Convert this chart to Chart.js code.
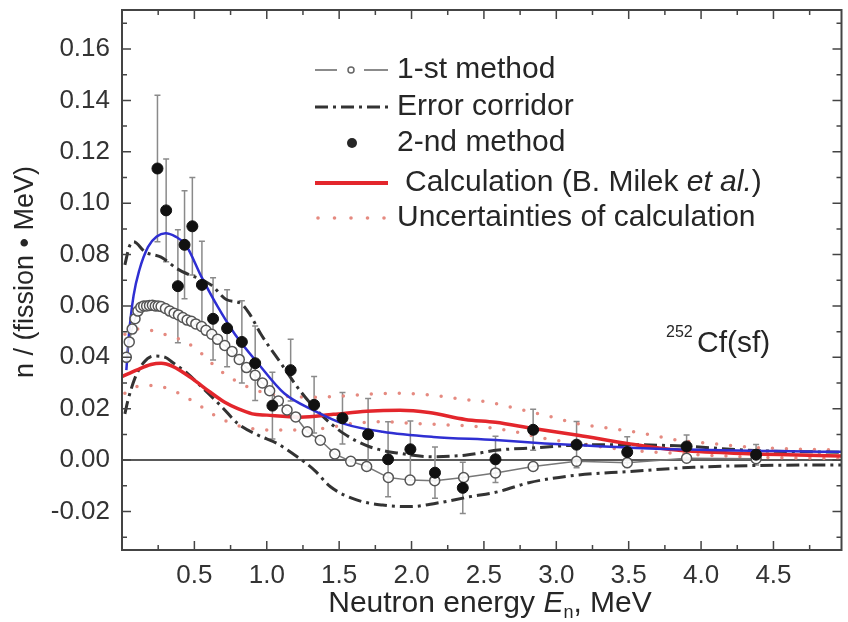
<!DOCTYPE html>
<html>
<head>
<meta charset="utf-8">
<script src="https://cdn.jsdelivr.net/npm/chart.js@4"></script>
<style>
  html, body { margin: 0; padding: 0; background: #fff; }
  canvas { display: block; }
</style>
</head>
<body>
<canvas id="chart" width="848" height="622"></canvas>
<script>
// 1-st method (open circles)
const firstE = [0.03, 0.05, 0.07, 0.09, 0.11, 0.13, 0.15, 0.17, 0.19, 0.21, 0.23, 0.25, 0.27, 0.30, 0.33, 0.36, 0.39, 0.42, 0.45, 0.48, 0.51, 0.55, 0.58, 0.62, 0.66, 0.71, 0.76, 0.81, 0.86, 0.92, 0.97, 1.02, 1.08, 1.14, 1.20, 1.28, 1.37, 1.47, 1.58, 1.69, 1.84, 1.99, 2.16, 2.36, 2.58, 2.84, 3.14, 3.49, 3.90, 4.38];
const firstV = [0.040, 0.046, 0.051, 0.055, 0.058, 0.0595, 0.060, 0.060, 0.0602, 0.0603, 0.060, 0.060, 0.0598, 0.059, 0.058, 0.0572, 0.0565, 0.0555, 0.0545, 0.054, 0.053, 0.052, 0.0505, 0.049, 0.047, 0.0446, 0.0423, 0.0392, 0.036, 0.033, 0.030, 0.027, 0.023, 0.0195, 0.0168, 0.011, 0.0077, 0.0024, -0.0005, -0.0025, -0.0068, -0.0078, -0.008, -0.0068, -0.005, -0.0025, -0.0005, -0.001, 0.0007, 0.0005];

// error corridor (dash-dot)
const corrUpE = [0.02, 0.05, 0.08, 0.16, 0.27, 0.38, 0.47, 0.54, 0.62, 0.72, 0.82, 0.88, 0.96, 1.10, 1.23, 1.37, 1.53, 1.71, 1.92, 2.15, 2.37, 2.60, 2.86, 3.13, 3.48, 3.89, 4.33, 4.97];
const corrUpV = [0.076, 0.083, 0.085, 0.081, 0.079, 0.0745, 0.072, 0.0705, 0.068, 0.0625, 0.061, 0.057, 0.049, 0.0375, 0.027, 0.018, 0.0104, 0.0052, 0.0026, 0.0013, 0.0019, 0.0039, 0.0048, 0.0058, 0.006, 0.0054, 0.0038, 0.003];
const corrLoE = [0.02, 0.04, 0.09, 0.15, 0.22, 0.30, 0.35, 0.44, 0.55, 0.69, 0.80, 0.94, 1.07, 1.21, 1.33, 1.44, 1.62, 1.80, 1.99, 2.17, 2.40, 2.60, 2.81, 3.15, 3.49, 3.95, 4.52, 4.97];
const corrLoV = [0.018, 0.023, 0.032, 0.038, 0.0405, 0.040, 0.038, 0.0343, 0.0285, 0.0207, 0.0142, 0.0097, 0.0065, 0.0013, -0.004, -0.0104, -0.0155, -0.0175, -0.0181, -0.0168, -0.0143, -0.0123, -0.0088, -0.0058, -0.0045, -0.0028, -0.002, -0.0019];

// 2-nd method (filled dots) with error bars
const secondE = [0.245, 0.305, 0.386, 0.432, 0.486, 0.552, 0.629, 0.726, 0.828, 0.92, 1.039, 1.165, 1.327, 1.523, 1.70, 1.838, 1.992, 2.162, 2.354, 2.58, 2.84, 3.14, 3.49, 3.90, 4.38];
const secondV = [0.1135, 0.0972, 0.0677, 0.0838, 0.0910, 0.0682, 0.0550, 0.0513, 0.0460, 0.0377, 0.0212, 0.0350, 0.0215, 0.0163, 0.0100, 0.0003, 0.0042, -0.0049, -0.0108, 0.0003, 0.0118, 0.0060, 0.0031, 0.0053, 0.0021];
const secondErr = [0.0285, 0.020, 0.022, 0.021, 0.019, 0.017, 0.016, 0.015, 0.016, 0.0145, 0.013, 0.012, 0.011, 0.010, 0.014, 0.0146, 0.011, 0.010, 0.010, 0.009, 0.008, 0.009, 0.006, 0.0045, 0.004];

// calculation (B. Milek et al.) and its uncertainties
const calcE = [0, 0.10, 0.20, 0.27, 0.35, 0.49, 0.60, 0.71, 0.80, 0.90, 1.00, 1.23, 1.46, 1.69, 1.92, 2.12, 2.37, 2.58, 2.84, 3.15, 3.49, 3.83, 4.29, 4.97];
const calcV = [0.0325, 0.035, 0.0372, 0.0377, 0.0365, 0.0315, 0.0268, 0.0225, 0.020, 0.018, 0.0175, 0.0167, 0.0178, 0.019, 0.0194, 0.0185, 0.0158, 0.0147, 0.0123, 0.0097, 0.0065, 0.0039, 0.0026, 0.0016];
const uncUpE = [0.02, 0.10, 0.20, 0.32, 0.44, 0.55, 0.66, 0.78, 0.90, 1.00, 1.15, 1.30, 1.42, 1.58, 1.74, 1.92, 2.15, 2.37, 2.51, 2.72, 2.92, 3.15, 3.38, 3.60, 3.83, 4.06, 4.29, 4.52, 4.97];
const uncUpV = [0.049, 0.051, 0.0505, 0.0485, 0.046, 0.0414, 0.0356, 0.031, 0.0277, 0.026, 0.0248, 0.0245, 0.0246, 0.0252, 0.0258, 0.026, 0.0252, 0.0235, 0.0228, 0.0201, 0.0175, 0.0142, 0.0123, 0.0104, 0.0078, 0.0065, 0.0052, 0.0045, 0.0039];
const uncLoE = [0.02, 0.09, 0.20, 0.32, 0.44, 0.55, 0.66, 0.78, 0.90, 1.00, 1.20, 1.39, 1.58, 1.80, 2.03, 2.28, 2.51, 2.72, 2.92, 3.15, 3.49, 3.83, 4.29, 4.97];
const uncLoV = [0.026, 0.0285, 0.029, 0.0278, 0.0246, 0.0207, 0.0168, 0.0138, 0.0122, 0.0117, 0.0117, 0.0123, 0.0142, 0.0149, 0.0142, 0.0136, 0.0128, 0.011, 0.0084, 0.0065, 0.0039, 0.0026, 0.0013, 0.0006];

// blue curve (no legend entry)
const blueE = [0.03, 0.05, 0.08, 0.12, 0.18, 0.24, 0.30, 0.37, 0.44, 0.55, 0.66, 0.78, 0.94, 1.12, 1.33, 1.53, 1.80, 2.15, 2.58, 2.92, 3.26, 3.60, 4.06, 4.52, 4.97];
const blueV = [0.035, 0.050, 0.064, 0.074, 0.083, 0.087, 0.0883, 0.087, 0.0838, 0.0712, 0.0598, 0.049, 0.0376, 0.026, 0.0192, 0.0142, 0.011, 0.009, 0.0078, 0.0065, 0.0055, 0.0046, 0.0039, 0.0035, 0.0032];

// axes
const xLabelTicks = [0.5, 1.0, 1.5, 2.0, 2.5, 3.0, 3.5, 4.0, 4.5];
const yLabelTicks = [-0.02, 0.00, 0.02, 0.04, 0.06, 0.08, 0.10, 0.12, 0.14, 0.16];
const legendLabels = ['1-st method', 'Error corridor', '2-nd method', 'Calculation (B. Milek ', 'Uncertainties of calculation'];

const FONT = '"Liberation Sans", Arial, sans-serif';
const pts = (xs, ys) => xs.map((x, i) => ({ x: x, y: ys[i] }));
const near = (v, list) => list.some(t => Math.abs(t - v) < 1e-6);

const CORR_DASH = [13, 5, 3, 5];
const DOT_DASH = [0, 14];

const decor = {
  id: 'decor',
  beforeDatasetsDraw(chart) {
    const { ctx, chartArea: a, scales: { x, y } } = chart;
    ctx.save();
    // zero line
    ctx.strokeStyle = '#222';
    ctx.lineWidth = 1.5;
    const y0 = y.getPixelForValue(0);
    ctx.beginPath(); ctx.moveTo(a.left, y0); ctx.lineTo(a.right, y0); ctx.stroke();
    // error bars of 2nd method
    ctx.strokeStyle = '#8a8a8a';
    ctx.lineWidth = 1.5;
    secondE.forEach((e, i) => {
      const px = x.getPixelForValue(e);
      const t = y.getPixelForValue(secondV[i] + secondErr[i]);
      const b = y.getPixelForValue(secondV[i] - secondErr[i]);
      ctx.beginPath();
      ctx.moveTo(px, t); ctx.lineTo(px, b);
      ctx.moveTo(px - 3, t); ctx.lineTo(px + 3, t);
      ctx.moveTo(px - 3, b); ctx.lineTo(px + 3, b);
      ctx.stroke();
    });
    ctx.restore();
  },
  afterDraw(chart) {
    const { ctx, chartArea: a, scales: { x, y } } = chart;
    ctx.save();
    // frame
    ctx.strokeStyle = '#444';
    ctx.lineWidth = 2;
    ctx.strokeRect(a.left, a.top, a.right - a.left, a.bottom - a.top);
    // inward ticks on all four sides
    ctx.lineWidth = 1.5;
    ctx.beginPath();
    for (let v = 0.25; v < x.max; v += 0.25) {
      const px = x.getPixelForValue(v);
      const len = Math.abs(v / 0.5 - Math.round(v / 0.5)) < 1e-6 ? 9 : 5;
      ctx.moveTo(px, a.bottom); ctx.lineTo(px, a.bottom - len);
      ctx.moveTo(px, a.top); ctx.lineTo(px, a.top + len);
    }
    for (let k = -3; k <= 17; k++) {
      const py = y.getPixelForValue(k / 100);
      const len = k % 2 === 0 ? 9 : 5;
      ctx.moveTo(a.left, py); ctx.lineTo(a.left + len, py);
      ctx.moveTo(a.right, py); ctx.lineTo(a.right - len, py);
    }
    ctx.stroke();

    ctx.fillStyle = '#262626';
    // y title
    ctx.save();
    ctx.translate(26, 272);
    ctx.rotate(-Math.PI / 2);
    ctx.font = `27px ${FONT}`;
    ctx.textAlign = 'center';
    ctx.textBaseline = 'middle';
    ctx.fillText('n / (fission \u2022 MeV)', 0, 0);
    ctx.restore();

    // x title with subscript
    ctx.textBaseline = 'alphabetic';
    ctx.textAlign = 'left';
    const f = `30px ${FONT}`, fi = `italic 30px ${FONT}`, fs = `18px ${FONT}`;
    const parts = [['Neutron energy ', f, 0], ['E', fi, 0], ['n', fs, 6], [', MeV', f, 0]];
    let w = 0;
    parts.forEach(p => { ctx.font = p[1]; w += ctx.measureText(p[0]).width; });
    let cx = 490 - w / 2;
    parts.forEach(p => { ctx.font = p[1]; ctx.fillText(p[0], cx, 612 + p[2]); cx += ctx.measureText(p[0]).width; });

    // 252Cf(sf)
    ctx.font = `16px ${FONT}`;
    ctx.fillText('252', 666, 337);
    ctx.font = `30px ${FONT}`;
    ctx.fillText('Cf(sf)', 697, 352);

    // legend
    const rows = [70, 107, 143, 183, 218];
    const lx0 = 315, lx1 = 388, tx = 397;
    ctx.textBaseline = 'middle';
    ctx.font = `30px ${FONT}`;
    // row 1
    ctx.strokeStyle = '#666'; ctx.lineWidth = 1.5;
    ctx.beginPath(); ctx.moveTo(lx0, rows[0]); ctx.lineTo(lx0 + 22, rows[0]);
    ctx.moveTo(lx1 - 24, rows[0]); ctx.lineTo(lx1, rows[0]); ctx.stroke();
    ctx.beginPath(); ctx.arc(351, rows[0], 3, 0, Math.PI * 2); ctx.stroke();
    ctx.fillText(legendLabels[0], tx, rows[0]);
    // row 2
    ctx.strokeStyle = '#333'; ctx.lineWidth = 3; ctx.setLineDash(CORR_DASH);
    ctx.beginPath(); ctx.moveTo(lx0, rows[1]); ctx.lineTo(lx1, rows[1]); ctx.stroke();
    ctx.setLineDash([]);
    ctx.fillText(legendLabels[1], tx, rows[1]);
    // row 3
    ctx.beginPath(); ctx.arc(352, rows[2], 5, 0, Math.PI * 2); ctx.fill();
    ctx.fillText(legendLabels[2], tx, rows[2]);
    // row 4
    ctx.strokeStyle = '#e3262c'; ctx.lineWidth = 4;
    ctx.beginPath(); ctx.moveTo(lx0, rows[3]); ctx.lineTo(lx1, rows[3]); ctx.stroke();
    let lx = 405;
    ctx.fillText(legendLabels[3], lx, rows[3]); lx += ctx.measureText(legendLabels[3]).width;
    ctx.font = `italic 30px ${FONT}`;
    ctx.fillText('et al.', lx, rows[3]); lx += ctx.measureText('et al.').width;
    ctx.font = `30px ${FONT}`;
    ctx.fillText(')', lx, rows[3]);
    // row 5
    ctx.fillStyle = '#e58a80';
    for (let k = 0; k < 5; k++) {
      ctx.beginPath(); ctx.arc(318 + k * 16.5, rows[4], 1.8, 0, Math.PI * 2); ctx.fill();
    }
    ctx.fillStyle = '#262626';
    ctx.fillText(legendLabels[4], tx, rows[4]);
    ctx.restore();
  }
};

const ctx = document.getElementById('chart').getContext('2d');
new Chart(ctx, {
  type: 'scatter',
  data: {
    datasets: [
      { label: '2-nd method', data: pts(secondE, secondV), showLine: false, pointRadius: 5.5, pointBackgroundColor: '#111', pointBorderColor: '#111', order: 1 },
      { label: '1-st method', data: pts(firstE, firstV), showLine: true, borderColor: '#777', borderWidth: 1.5, pointRadius: 5, pointBorderWidth: 1.5, pointBorderColor: '#555', pointBackgroundColor: 'rgba(255,255,255,0.9)', order: 2 },
      { label: 'blue', data: pts(blueE, blueV), showLine: true, borderColor: '#2f2fd2', borderWidth: 2.5, pointRadius: 0, cubicInterpolationMode: 'monotone', order: 3 },
      { label: 'Calculation', data: pts(calcE, calcV), showLine: true, borderColor: '#e3262c', borderWidth: 3.5, pointRadius: 0, cubicInterpolationMode: 'monotone', order: 4 },
      { label: 'Error corridor up', data: pts(corrUpE, corrUpV), showLine: true, borderColor: '#333', borderWidth: 3, borderDash: CORR_DASH, pointRadius: 0, cubicInterpolationMode: 'monotone', order: 5 },
      { label: 'Error corridor low', data: pts(corrLoE, corrLoV), showLine: true, borderColor: '#333', borderWidth: 3, borderDash: CORR_DASH, pointRadius: 0, cubicInterpolationMode: 'monotone', order: 5 },
      { label: 'Unc up', data: pts(uncUpE, uncUpV), showLine: true, borderColor: '#e58a80', borderWidth: 3.5, borderDash: DOT_DASH, borderCapStyle: 'round', pointRadius: 0, cubicInterpolationMode: 'monotone', order: 6 },
      { label: 'Unc low', data: pts(uncLoE, uncLoV), showLine: true, borderColor: '#e58a80', borderWidth: 3.5, borderDash: DOT_DASH, borderCapStyle: 'round', pointRadius: 0, cubicInterpolationMode: 'monotone', order: 6 }
    ]
  },
  options: {
    responsive: false,
    animation: false,
    events: [],
    layout: { padding: { top: 10, right: 1, left: 0, bottom: 0 } },
    scales: {
      x: {
        type: 'linear', min: 0, max: 4.97,
        afterFit: s => { s.height = 72; s.paddingLeft = 0; s.paddingRight = 0; },
        grid: { display: false, drawTicks: false },
        border: { display: false },
        ticks: {
          stepSize: 0.25, autoSkip: false, maxRotation: 0, padding: 10,
          color: '#333', font: { family: FONT, size: 26 },
          callback: v => near(v, xLabelTicks) ? v.toFixed(1) : null
        }
      },
      y: {
        type: 'linear', min: -0.035, max: 0.1752,
        afterFit: s => { s.width = 122; s.paddingTop = 0; s.paddingBottom = 0; },
        grid: { display: false, drawTicks: false },
        border: { display: false },
        ticks: {
          stepSize: 0.01, autoSkip: false, padding: 12,
          color: '#333', font: { family: FONT, size: 26 },
          callback: v => near(v, yLabelTicks) ? v.toFixed(2) : null
        }
      }
    },
    plugins: { legend: { display: false }, tooltip: { enabled: false } }
  },
  plugins: [decor]
});
</script>
</body>
</html>
